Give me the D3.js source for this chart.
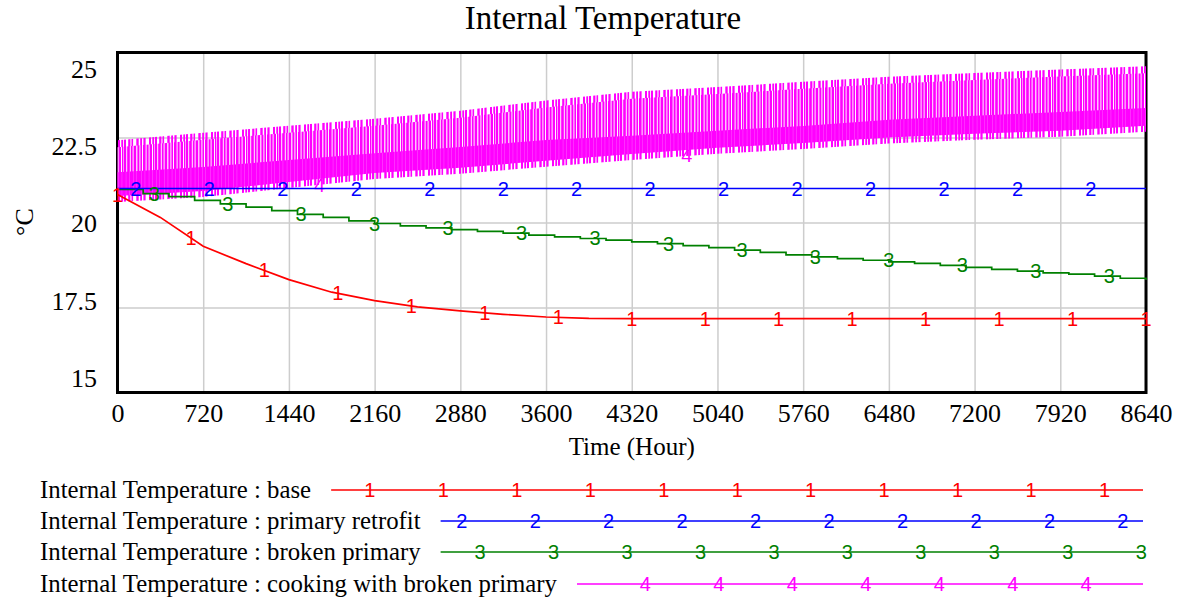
<!DOCTYPE html>
<html>
<head>
<meta charset="utf-8">
<script src="https://cdn.jsdelivr.net/npm/d3@7"></script>
<style>
  body { margin: 0; background: #fff; }
  text { font-family: "Liberation Serif", "Times New Roman", serif; fill: #000; }
  .mark { font-family: "Liberation Sans", Arial, sans-serif; font-size: 20px; text-anchor: middle; }
</style>
</head>
<body>
<svg id="chart" width="1179" height="603"></svg>
<script>
const chartTitle = "Internal Temperature"
const yTitle = "°C"
const xTitle = "Time (Hour)"
const seriesNames = ["base", "primary retrofit", "broken primary", "cooking with broken primary"]
const xTicks = [0, 720, 1440, 2160, 2880, 3600, 4320, 5040, 5760, 6480, 7200, 7920, 8640]
const yTicks = [15, 17.5, 20, 22.5, 25]

// base: every 360 h
const baseStep = 360
const baseTemp = [20.82, 20.15, 19.3, 18.79, 18.32, 17.95, 17.7, 17.52, 17.4, 17.3, 17.22, 17.18,
  17.17, 17.17, 17.17, 17.17, 17.17, 17.17, 17.17, 17.17, 17.17, 17.17, 17.17, 17.17, 17.17]

// primary retrofit: every 720 h
const retroStep = 720
const retroTemp = [21, 21, 21, 21, 21, 21, 21, 21, 21, 21, 21, 21, 21]

// broken primary: every 216 h (stepped)
const brokenStep = 216
const brokenTemp = [20.97, 20.85, 20.76, 20.65, 20.55, 20.45, 20.35, 20.24, 20.15, 20.05,
  19.97, 19.9, 19.84, 19.79, 19.74, 19.69, 19.63, 19.58, 19.53, 19.48,
  19.43, 19.38, 19.32, 19.26, 19.19, 19.12, 19.05, 18.99, 18.94, 18.89,
  18.84, 18.8, 18.74, 18.68, 18.62, 18.57, 18.52, 18.48, 18.42, 18.36, 18.31]

// cooking with broken primary: daily swing, envelopes every 720 h
const cookStep = 720
const cookHigh = [22.33, 22.55, 22.76, 22.96, 23.2, 23.5, 23.76, 23.9, 24.05, 24.2, 24.31, 24.41, 24.51]
const cookMid  = [21.48, 21.63, 21.84, 22.04, 22.22, 22.43, 22.55, 22.7, 22.84, 23.02, 23.14, 23.25, 23.37]
const cookLow  = [20.66, 20.81, 21.07, 21.34, 21.49, 21.7, 21.9, 22.08, 22.22, 22.38, 22.49, 22.58, 22.73]
// value of the cooking line where its "4" labels sit
const cookMarks = [21.5, 21.6, 21.1, 22.0, 22.3, 22.5, 22.6, 22.0, 22.9, 23.0, 23.1, 23.2, 23.3, 23.4]

const colors = ["#ff0000", "#0000ff", "#008000", "#ff00ff"]

const svg = d3.select("#chart")
const plot = { left: 117.5, right: 1146, top: 52.5, bottom: 392.5 }
const x = d3.scaleLinear().domain([0, 8640]).range([plot.left, plot.right])
const y = d3.scaleLinear().domain([15, 25]).range([plot.bottom, plot.top])
// Vensim squeezes the y labels a bit inside the gridlines
const yLab = d3.scaleLinear().domain([15, 25]).range([378, 69])

const markStep = 8640 / 14

// grid
svg.append("g")
  .attr("transform", `translate(0,${plot.bottom})`)
  .call(d3.axisBottom(x).tickValues(xTicks).tickSize(-(plot.bottom - plot.top)).tickFormat(""))
  .call(g => g.select(".domain").remove())
  .selectAll("line").attr("stroke", "#cdcdcd").attr("stroke-width", 1.5)
svg.append("g")
  .attr("transform", `translate(${plot.left},0)`)
  .call(d3.axisLeft(y).tickValues(yTicks).tickSize(-(plot.right - plot.left)).tickFormat(""))
  .call(g => g.select(".domain").remove())
  .selectAll("line").attr("stroke", "#cdcdcd").attr("stroke-width", 1.5)

// frame
svg.append("rect")
  .attr("x", plot.left).attr("y", plot.top)
  .attr("width", plot.right - plot.left).attr("height", plot.bottom - plot.top)
  .attr("fill", "none").attr("stroke", "#000").attr("stroke-width", 3)

// tick labels
svg.append("g")
  .attr("transform", `translate(0,${plot.bottom})`)
  .call(d3.axisBottom(x).tickValues(xTicks).tickSize(0).tickPadding(11).tickFormat(d => d))
  .call(g => g.select(".domain").remove())
  .selectAll("text").style("font-size", "26px").style("font-family", "Liberation Serif")
svg.append("g")
  .attr("transform", `translate(${plot.left},0)`)
  .call(d3.axisLeft(yLab).tickValues(yTicks).tickSize(0).tickPadding(20.5).tickFormat(d => d))
  .call(g => g.select(".domain").remove())
  .selectAll("text").style("font-size", "26px").style("font-family", "Liberation Serif")

// titles
svg.append("text").attr("x", 603).attr("y", 29).attr("text-anchor", "middle")
  .style("font-size", "33px").text(chartTitle)
svg.append("text").attr("x", (plot.left + plot.right) / 2).attr("y", 455).attr("text-anchor", "middle")
  .style("font-size", "25px").text(xTitle)
svg.append("text").attr("transform", "translate(33,222) rotate(-90)").attr("text-anchor", "middle")
  .style("font-size", "26px").text(yTitle)

// number markers of the cooking run sit under its band
const cookMarkPts = cookMarks.map((v, j) => ({ t: 3 * markStep / 4 + j * markStep, v: v }))
svg.append("g").selectAll("text").data(cookMarkPts).enter().append("text")
  .attr("class", "mark")
  .attr("x", d => x(d.t)).attr("y", d => y(d.v) + 7)
  .style("fill", colors[3])
  .text("4")

// stripe patterns for the fast cooking swing
const defs = svg.append("defs")
function stripes(id, bars, w, bg) {
  const p = defs.append("pattern").attr("id", id)
    .attr("patternUnits", "userSpaceOnUse").attr("width", w).attr("height", 603)
  if (bg) p.append("rect").attr("width", w).attr("height", 603).attr("fill", bg)
  bars.forEach(b => p.append("rect").attr("x", b[0]).attr("width", b[1]).attr("height", 603).attr("fill", colors[3]))
}
stripes("edge", [[0, 2], [4.2, 2.2], [7.5, 1.6], [12.3, 2.4], [16.2, 1.8], [19.4, 2.2], [25, 2], [28.3, 1.8]], 31, null)
stripes("sparse", [[0, 2.2], [3.2, 2.6], [6.8, 1.8], [9.6, 2.6], [13.4, 2], [16.4, 1.6], [19, 2.6], [22.6, 2], [25.6, 2.4], [29, 1.4]], 31, "#fff4fe")
stripes("dense", [[0, 3.4], [3.9, 2.8], [7.2, 3.6], [11.3, 2.8], [14.6, 3.4], [18.5, 3], [22, 1]], 23, "#ff55ff")

const cookPts = cookHigh.map((h, i) => ({ t: i * cookStep, hi: h, mid: cookMid[i], lo: cookLow[i] }))
// ragged outer fringe, then the body, then the dense low part
svg.append("path").datum(cookPts)
  .attr("d", d3.area().x(d => x(d.t)).y0(d => y(d.lo) + 2).y1(d => y(d.hi) - 3))
  .attr("fill", "url(#edge)")
svg.append("path").datum(cookPts)
  .attr("d", d3.area().x(d => x(d.t)).y0(d => y(d.lo) - 5).y1(d => y(d.hi) + 4))
  .attr("fill", "url(#sparse)")
svg.append("path").datum(cookPts)
  .attr("d", d3.area().x(d => x(d.t)).y0(d => y(d.lo) - 4).y1(d => y(d.mid)))
  .attr("fill", "url(#dense)")

// lines
const series = [
  { vals: baseTemp, step: baseStep, curve: d3.curveLinear },
  { vals: retroTemp, step: retroStep, curve: d3.curveLinear },
  { vals: brokenTemp, step: brokenStep, curve: d3.curveStepAfter }
]
series.forEach(s => { s.pts = s.vals.map((v, i) => ({ t: i * s.step, v: v })) })

function valueAt(s, t) {
  const i = Math.min(Math.floor(t / s.step), s.vals.length - 1)
  if (s.curve === d3.curveStepAfter || i === s.vals.length - 1) return s.vals[i]
  const f = (t - i * s.step) / s.step
  return s.vals[i] + f * (s.vals[i + 1] - s.vals[i])
}

const order = [2, 1, 0]
order.forEach(k => {
  const s = series[k]
  svg.append("path").datum(s.pts)
    .attr("d", d3.line().x(d => x(d.t)).y(d => y(d.v)).curve(s.curve))
    .attr("fill", "none").attr("stroke", colors[k]).attr("stroke-width", 1.7)
})

// number markers on the lines
const markers = []
for (let k = 0; k < 3; k++) {
  for (let j = 0; j < 15; j++) {
    const t = k * markStep / 4 + j * markStep
    if (t > 8640 + 1) continue
    markers.push({ k: k, t: t, v: valueAt(series[k], t) })
  }
}
svg.append("g").selectAll("text").data(markers).enter().append("text")
  .attr("class", "mark")
  .attr("x", d => x(d.t)).attr("y", d => y(d.v) + 7)
  .style("fill", d => colors[d.k])
  .text(d => d.k + 1)

// legend
const xLeg = x.copy().range([plot.left + 32, plot.right + 32])
const legEnd = 1143
const legRows = [490, 521, 552, 584]
seriesNames.forEach((name, k) => {
  const row = svg.append("g")
  const txt = row.append("text").attr("x", 40).attr("y", legRows[k] + 8)
    .style("font-size", "24.8px").text(chartTitle + " : " + name)
  const start = 40 + txt.node().getComputedTextLength() + 20
  row.append("line").attr("x1", start).attr("x2", legEnd)
    .attr("y1", legRows[k]).attr("y2", legRows[k])
    .attr("stroke", colors[k]).attr("stroke-width", 1.7)
  for (let j = 0; j < 15; j++) {
    const px = xLeg(k * markStep / 4 + j * markStep)
    if (px < start + 10 || px > legEnd + 2) continue
    row.append("text").attr("class", "mark")
      .attr("x", px).attr("y", legRows[k] + 7)
      .style("fill", colors[k]).text(k + 1)
  }
})
</script>
</body>
</html>
